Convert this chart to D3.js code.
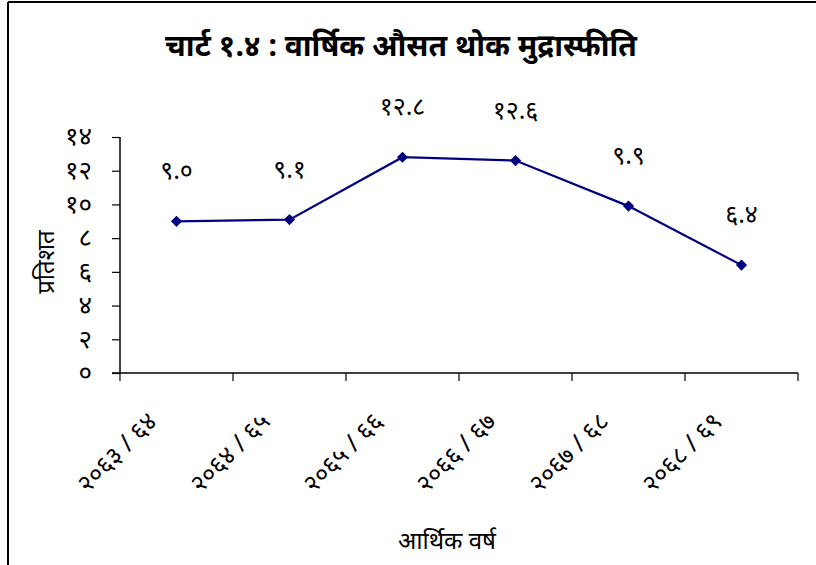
<!DOCTYPE html>
<html><head><meta charset="utf-8">
<script src="https://cdn.jsdelivr.net/npm/d3@7"></script>
<style>
body{margin:0;background:#fff;}
text{font-family:"Noto Sans","DejaVu Sans",sans-serif;fill:#000;}
</style></head>
<body><svg id="c" width="816" height="565"></svg>
<script>
const categories = ["२०६३/६४","२०६४/६५","२०६५/६६","२०६६/६७","२०६७/६८","२०६८/६९"];
const values = [9.0, 9.1, 12.8, 12.6, 9.9, 6.4];
const valueLabels = ["९.०","९.१","१२.८","१२.६","९.९","६.४"];
const yTicks = [0,2,4,6,8,10,12,14];
const yTickLabels = ["०","२","४","६","८","१०","१२","१४"];
const title = "चार्ट १.४ : वार्षिक औसत थोक मुद्रास्फीति";
const yTitle = "प्रतिशत";
const xTitle = "आर्थिक वर्ष";

const svg = d3.select("#c");
// frame
svg.append("line").attr("x1",8).attr("y1",2).attr("x2",816).attr("y2",2).attr("stroke","#000").attr("stroke-width",2);
svg.append("line").attr("x1",8).attr("y1",2).attr("x2",8).attr("y2",565).attr("stroke","#000").attr("stroke-width",2);

const L=120, R=798, T=137, B=373;
const x = d3.scaleBand().domain(categories).range([L,R]).padding(0);
const y = d3.scaleLinear().domain([0,14]).range([B,T]);

svg.append("text").attr("x",401).attr("y",56).attr("text-anchor","middle")
  .style("font-size","30px").style("font-weight","bold").text(title);

// y axis
const ya = svg.append("g").attr("transform",`translate(${L},0)`)
  .call(d3.axisLeft(y).tickValues(yTicks).tickSize(8).tickPadding(20).tickFormat((d,i)=>yTickLabels[i]));
ya.select(".domain").attr("stroke","#000").attr("stroke-width",1.5).attr("d",`M0,${T}V${B}`);
ya.selectAll(".tick line").attr("stroke","#000").attr("stroke-width",1.2);
ya.selectAll(".tick text").style("font-size","26px").style("font-family","'Noto Sans','DejaVu Sans',sans-serif").attr("dy","0.3em");

// x axis
const xa = svg.append("g").attr("transform",`translate(0,${B})`)
  .call(d3.axisBottom(x).tickSize(0).tickFormat(""));
xa.select(".domain").attr("stroke","#000").attr("stroke-width",1.5).attr("d",`M${L-8},0H${R}`);
const bounds = [L].concat(categories.map(c=>x(c)+x.bandwidth()));
xa.selectAll(".bt").data(bounds).enter().append("line")
  .attr("x1",d=>d).attr("x2",d=>d).attr("y1",0).attr("y2",8).attr("stroke","#000").attr("stroke-width",1.2);
xa.selectAll(".xl").data(categories).enter().append("text")
  .attr("transform",d=>`translate(${x(d)+x.bandwidth()/2-18},${50}) rotate(-45)`)
  .attr("text-anchor","end").style("font-size","25px").text(d=>d.replace("/"," / "));

// axis titles
svg.append("text").attr("transform",`translate(54,262) rotate(-90)`).attr("text-anchor","middle")
  .style("font-size","24px").text(yTitle);
svg.append("text").attr("x",447).attr("y",549).attr("text-anchor","middle")
  .style("font-size","24px").text(xTitle);

// line
const cx = d=>x(d)+x.bandwidth()/2;
const line = d3.line().x((d,i)=>cx(categories[i])).y(d=>y(d));
svg.append("path").datum(values).attr("d",line).attr("fill","none").attr("stroke","#000080").attr("stroke-width",2.2);
svg.selectAll(".m").data(values).enter().append("path")
  .attr("transform",(d,i)=>`translate(${cx(categories[i])},${y(d)})`)
  .attr("d",d3.symbol().type(d3.symbolDiamond2).size(80)).attr("fill","#000080");
svg.selectAll(".vl").data(values).enter().append("text")
  .attr("x",(d,i)=>cx(categories[i])).attr("y",d=>y(d)-42).attr("text-anchor","middle")
  .style("font-size","25px").text((d,i)=>valueLabels[i]);
</script></body></html>
